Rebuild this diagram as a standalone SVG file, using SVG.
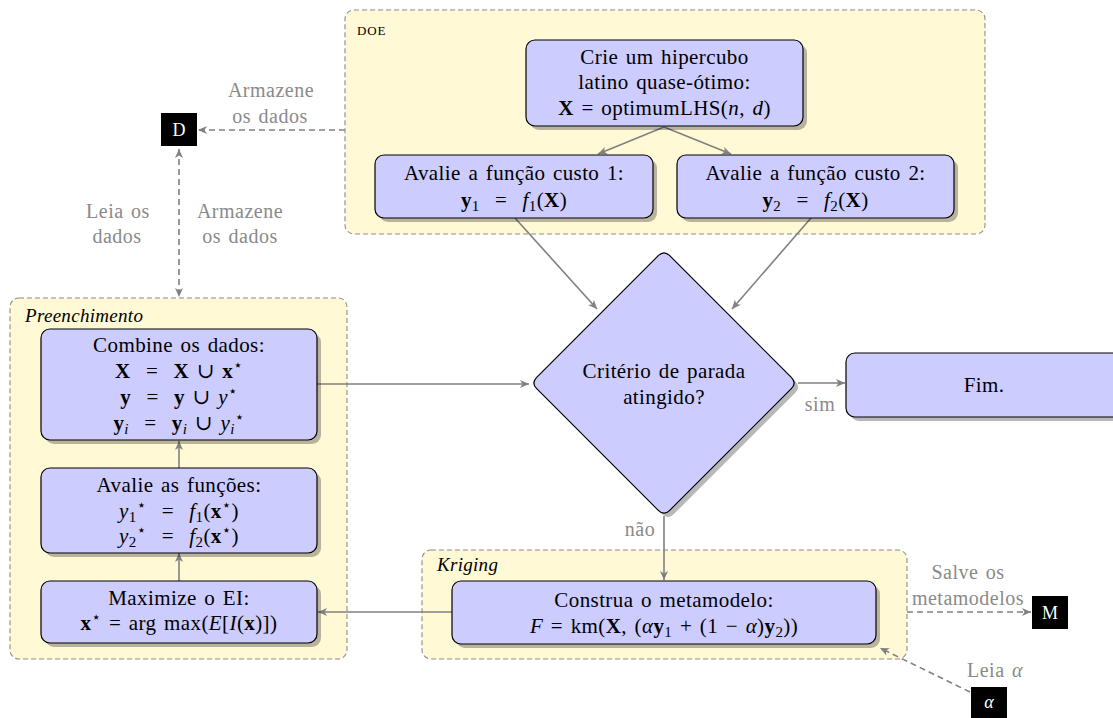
<svg xmlns="http://www.w3.org/2000/svg" width="1113" height="718" viewBox="0 0 1113 718">
  <style>
    text { font-family: "Liberation Serif", "DejaVu Serif", serif; }
    .t { font-size: 21px; fill: #000; text-anchor: middle; letter-spacing: 0.4px; word-spacing: 2px; }
    .lb { font-size: 20px; fill: #8a8a8a; text-anchor: middle; letter-spacing: 0.5px; word-spacing: 2px; }
    .cap { font-size: 19px; font-style: italic; fill: #000; letter-spacing: 0.3px; }
    .b { font-weight: bold; }
    .i { font-style: italic; }
    .s { font-size: 15px; }
    .st { font-size: 15px; font-family: "DejaVu Sans", sans-serif; }
    .node { fill: #ccccff; stroke: #000; stroke-width: 1.2; }
    .shadow { fill: #000; opacity: 0.28; }
    .box { fill: #fff9d6; stroke: #8c8c8c; stroke-width: 1.1; stroke-dasharray: 5 3; }
    .blk { fill: #000; }
    .wt { font-size: 18px; fill: #fff; text-anchor: middle; }
    .c { fill: none; stroke: #808080; stroke-width: 1.6; }
    .d { stroke-dasharray: 6 4; }
  </style>
  <defs>
    <marker id="ah" viewBox="-10 -5 11 10" refX="0" refY="0" markerWidth="11" markerHeight="10" markerUnits="userSpaceOnUse" orient="auto-start-reverse">
      <path d="M0,0 L-9,-4 L-6.5,0 L-9,4 Z" fill="#808080"/>
    </marker>
  </defs>

  <!-- group containers -->
  <g id="doe-group">
    <rect class="box" x="345" y="10" width="640" height="224" rx="9"/>
    <text x="357" y="35" style="font-size:13px;letter-spacing:0.8px">DOE</text>
  </g>
  <g id="preenchimento-group">
    <rect class="box" x="10" y="298" width="337" height="361" rx="9"/>
    <text class="cap" x="25" y="322">Preenchimento</text>
  </g>
  <g id="kriging-group">
    <rect class="box" x="422" y="550" width="485" height="109" rx="9"/>
    <text class="cap" x="437" y="571">Kriging</text>
  </g>

  <!-- connectors -->
  <g id="connectors">
    <line class="c" x1="664" y1="127" x2="598" y2="154" marker-end="url(#ah)"/>
    <line class="c" x1="664" y1="127" x2="731" y2="154" marker-end="url(#ah)"/>
    <line class="c" x1="515" y1="218" x2="597" y2="309" marker-end="url(#ah)"/>
    <line class="c" x1="811" y1="218" x2="732" y2="309" marker-end="url(#ah)"/>
    <line class="c" x1="798" y1="383" x2="845" y2="383" marker-end="url(#ah)"/>
    <line class="c" x1="664" y1="516" x2="664" y2="580" marker-end="url(#ah)"/>
    <line class="c" x1="452" y1="612" x2="318" y2="612" marker-end="url(#ah)"/>
    <line class="c" x1="179" y1="581" x2="179" y2="553" marker-end="url(#ah)"/>
    <line class="c" x1="179" y1="468" x2="179" y2="441" marker-end="url(#ah)"/>
    <line class="c" x1="317" y1="384" x2="529" y2="384" marker-end="url(#ah)"/>
    <line class="c d" x1="345" y1="130" x2="198" y2="130" marker-end="url(#ah)"/>
    <line class="c d" x1="179" y1="149" x2="179" y2="297" marker-start="url(#ah)" marker-end="url(#ah)"/>
    <line class="c d" x1="907" y1="612" x2="1031" y2="612" marker-end="url(#ah)"/>
    <line class="c d" x1="970" y1="692" x2="880" y2="648" marker-end="url(#ah)"/>

    <text class="lb" x="271" y="97">Armazene</text>
    <text class="lb" x="270" y="123">os dados</text>
    <text class="lb" x="118" y="218">Leia os</text>
    <text class="lb" x="117" y="243">dados</text>
    <text class="lb" x="240" y="218">Armazene</text>
    <text class="lb" x="240" y="243">os dados</text>
    <text class="lb" x="820" y="411">sim</text>
    <text class="lb" x="640" y="536">não</text>
    <text class="lb" x="968" y="579">Salve os</text>
    <text class="lb" x="968" y="605">metamodelos</text>
    <text class="lb" x="995" y="677">Leia <tspan class="i">α</tspan></text>
  </g>

  <!-- DOE nodes -->
  <g id="lhs">
    <rect class="shadow" x="530" y="44" width="277" height="86" rx="9"/>
    <rect class="node" x="526" y="40" width="277" height="86" rx="9"/>
    <text class="t" x="664.5" y="64">Crie um hipercubo</text>
    <text class="t" x="664.5" y="89">latino quase-ótimo:</text>
    <text class="t" x="664.5" y="115"><tspan class="b">X</tspan> = optimumLHS(<tspan class="i">n</tspan>, <tspan class="i">d</tspan>)</text>
  </g>
  <g id="eval1">
    <rect class="shadow" x="379" y="159" width="278" height="63" rx="9"/>
    <rect class="node" x="375" y="155" width="278" height="63" rx="9"/>
    <text class="t" x="514" y="180">Avalie a função custo 1:</text>
    <text class="t" x="514" y="207" xml:space="preserve"><tspan class="b">y</tspan><tspan class="s" dy="4">1</tspan><tspan dy="-4">  =  </tspan><tspan class="i">f</tspan><tspan class="s" dy="4">1</tspan><tspan dy="-4">(</tspan><tspan class="b">X</tspan>)</text>
  </g>
  <g id="eval2">
    <rect class="shadow" x="681" y="159" width="277" height="63" rx="9"/>
    <rect class="node" x="677" y="155" width="277" height="63" rx="9"/>
    <text class="t" x="815.5" y="180">Avalie a função custo 2:</text>
    <text class="t" x="815.5" y="207" xml:space="preserve"><tspan class="b">y</tspan><tspan class="s" dy="4">2</tspan><tspan dy="-4">  =  </tspan><tspan class="i">f</tspan><tspan class="s" dy="4">2</tspan><tspan dy="-4">(</tspan><tspan class="b">X</tspan>)</text>
  </g>

  <!-- decision -->
  <g id="criterio">
    <path class="shadow" transform="translate(4,4)" d="M669.7,255.7 L791.3,377.3 Q797,383 791.3,388.7 L669.7,510.3 Q664,516 658.3,510.3 L536.7,388.7 Q531,383 536.7,377.3 L658.3,255.7 Q664,250 669.7,255.7 Z"/>
    <path class="node" d="M669.7,255.7 L791.3,377.3 Q797,383 791.3,388.7 L669.7,510.3 Q664,516 658.3,510.3 L536.7,388.7 Q531,383 536.7,377.3 L658.3,255.7 Q664,250 669.7,255.7 Z"/>
    <text class="t" x="664" y="378">Critério de parada</text>
    <text class="t" x="664" y="404">atingido?</text>
  </g>
  <g id="fim">
    <rect class="shadow" x="850" y="357" width="276" height="64" rx="9"/>
    <rect class="node" x="846" y="353" width="276" height="64" rx="9"/>
    <text class="t" x="984" y="392">Fim.</text>
  </g>

  <!-- infill loop -->
  <g id="combine">
    <rect class="shadow" x="45" y="333" width="276" height="111" rx="9"/>
    <rect class="node" x="41" y="329" width="276" height="111" rx="9"/>
    <text class="t" x="179" y="352">Combine os dados:</text>
    <text class="t" x="179" y="378" xml:space="preserve"><tspan class="b">X</tspan>  =  <tspan class="b">X</tspan> ∪ <tspan class="b">x</tspan><tspan class="st" dy="-8">⋆</tspan></text>
    <text class="t" x="179" y="404" xml:space="preserve"><tspan class="b">y</tspan>  =  <tspan class="b">y</tspan> ∪ <tspan class="i">y</tspan><tspan class="st" dy="-8">⋆</tspan></text>
    <text class="t" x="179" y="430" xml:space="preserve"><tspan class="b">y</tspan><tspan class="s i" dy="4">i</tspan><tspan dy="-4">  =  </tspan><tspan class="b">y</tspan><tspan class="s i" dy="4">i</tspan><tspan dy="-4"> ∪ </tspan><tspan class="i">y</tspan><tspan class="s i" dy="4">i</tspan><tspan class="st" dy="-12">⋆</tspan></text>
  </g>
  <g id="avalie">
    <rect class="shadow" x="45" y="472" width="276" height="85" rx="9"/>
    <rect class="node" x="41" y="468" width="276" height="85" rx="9"/>
    <text class="t" x="179" y="492">Avalie as funções:</text>
    <text class="t" x="179" y="518" xml:space="preserve"><tspan class="i">y</tspan><tspan class="s" dy="4">1</tspan><tspan class="st" dy="-12">⋆</tspan><tspan dy="8">  =  </tspan><tspan class="i">f</tspan><tspan class="s" dy="4">1</tspan><tspan dy="-4">(</tspan><tspan class="b">x</tspan><tspan class="st" dy="-8">⋆</tspan><tspan dy="8">)</tspan></text>
    <text class="t" x="179" y="543" xml:space="preserve"><tspan class="i">y</tspan><tspan class="s" dy="4">2</tspan><tspan class="st" dy="-12">⋆</tspan><tspan dy="8">  =  </tspan><tspan class="i">f</tspan><tspan class="s" dy="4">2</tspan><tspan dy="-4">(</tspan><tspan class="b">x</tspan><tspan class="st" dy="-8">⋆</tspan><tspan dy="8">)</tspan></text>
  </g>
  <g id="maximize">
    <rect class="shadow" x="45" y="585" width="276" height="62" rx="9"/>
    <rect class="node" x="41" y="581" width="276" height="62" rx="9"/>
    <text class="t" x="179" y="605">Maximize o EI:</text>
    <text class="t" x="179" y="630"><tspan class="b">x</tspan><tspan class="st" dy="-8">⋆</tspan><tspan dy="8"> = arg max(</tspan><tspan class="i">E</tspan>[<tspan class="i">I</tspan>(<tspan class="b">x</tspan>)])</text>
  </g>
  <g id="metamodelo">
    <rect class="shadow" x="456" y="585" width="424" height="63" rx="9"/>
    <rect class="node" x="452" y="581" width="424" height="63" rx="9"/>
    <text class="t" x="664" y="607">Construa o metamodelo:</text>
    <text class="t" x="664" y="633"><tspan class="i">F</tspan> = km(<tspan class="b">X</tspan>, (<tspan class="i">α</tspan><tspan class="b">y</tspan><tspan class="s" dy="4">1</tspan><tspan dy="-4"> + (1 − </tspan><tspan class="i">α</tspan>)<tspan class="b">y</tspan><tspan class="s" dy="4">2</tspan><tspan dy="-4">))</tspan></text>
  </g>

  <!-- data stores -->
  <g id="store-d">
    <rect class="blk" x="161" y="113" width="36" height="33"/>
    <text class="wt" x="179" y="136">D</text>
  </g>
  <g id="store-m">
    <rect class="blk" x="1032" y="596" width="36" height="33"/>
    <text class="wt" x="1050" y="619">M</text>
  </g>
  <g id="store-alpha">
    <rect class="blk" x="971" y="687" width="36" height="33"/>
    <text class="wt i" x="989" y="708">α</text>
  </g>
</svg>
